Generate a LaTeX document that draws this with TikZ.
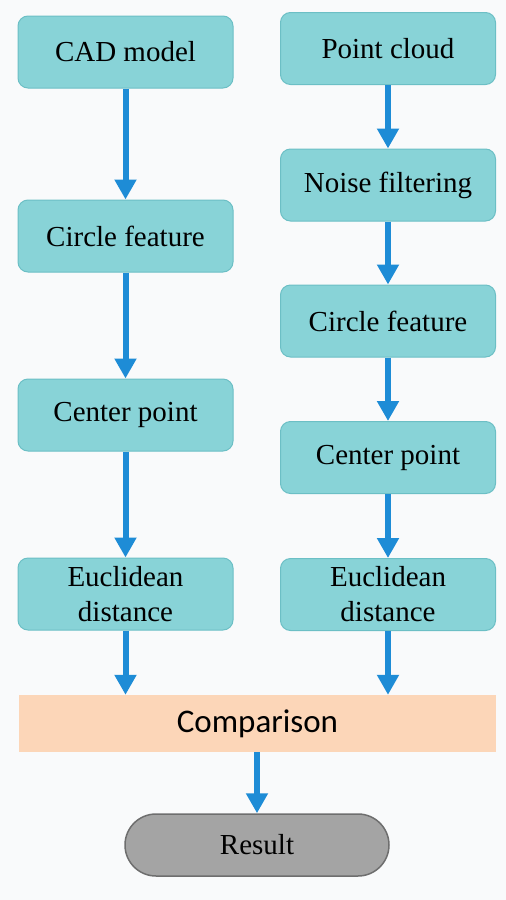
\documentclass[tikz,border=0pt]{standalone}
\usepackage{fontspec}
\setmainfont{Liberation Serif}
\newfontfamily\boxfont{Liberation Serif}
\newfontfamily\cmpfont{Carlito}
\usetikzlibrary{arrows.meta}
\definecolor{boxfill}{HTML}{88D3D7}
\definecolor{boxline}{HTML}{6CBFC5}
\definecolor{arrblue}{HTML}{1E8CD6}
\definecolor{cmpfill}{HTML}{FCD6B8}
\definecolor{resfill}{HTML}{A4A4A4}
\definecolor{resline}{HTML}{6E6E6E}
\definecolor{bgcol}{HTML}{F9FAFB}

\begin{document}
\begin{tikzpicture}[x=1pt,y=-1pt,
    box/.style={draw=boxline,fill=boxfill,line width=1pt,rounded corners=10pt,
        minimum width=215pt,minimum height=72pt,align=center,
        font=\boxfont\fontsize{29}{35}\selectfont},
    cmpbox/.style={fill=cmpfill,minimum width=477pt,minimum height=57pt,
        font=\cmpfont\fontsize{33}{40}\selectfont},
    endbox/.style={draw=resline,fill=resfill,line width=1.5pt,rounded corners=31pt,
        minimum width=264pt,minimum height=62pt,font=\boxfont\fontsize{29}{35}\selectfont},
    arr/.style={draw=arrblue,line width=6pt,-{Triangle[width=21pt,length=20pt]}}]
        \fill[bgcol] (0,0) rectangle (506,900);
        % left column
        \node[box] (cadL) at (125.5,52) {CAD model};
        \node[box] (circL) at (125.5,236) {Circle feature};
        \node[box] (cenL) at (125.5,415) {Center point};
        \node[box] (eucL) at (125.5,594) {Euclidean\\distance};
        % right column
        \node[box] (pcR) at (388,48.5) {Point cloud};
        \node[box] (noiseR) at (388,185) {Noise filtering};
        \node[box] (circR) at (388,321) {Circle feature};
        \node[box] (cenR) at (388,457.5) {Center point};
        \node[box] (eucR) at (388,594.5) {Euclidean\\distance};
        % bottom
        \node[cmpbox] (cmp) at (257.5,723.5) {Comparison};
        \node[endbox] (res) at (257,845) {Result};
        \draw[arr] (cadL) -- (circL);
        \draw[arr] (circL) -- (cenL);
        \draw[arr] (cenL) -- (eucL);
        \draw[arr] (pcR) -- (noiseR);
        \draw[arr] (noiseR) -- (circR);
        \draw[arr] (circR) -- (cenR);
        \draw[arr] (cenR) -- (eucR);
        \draw[arr] (eucL.south) -- (eucL.south |- cmp.north);
        \draw[arr] (eucR.south) -- (eucR.south |- cmp.north);
        \draw[arr] (cmp.south -| res.north) -- (res.north);
    \end{tikzpicture}
\end{document}
